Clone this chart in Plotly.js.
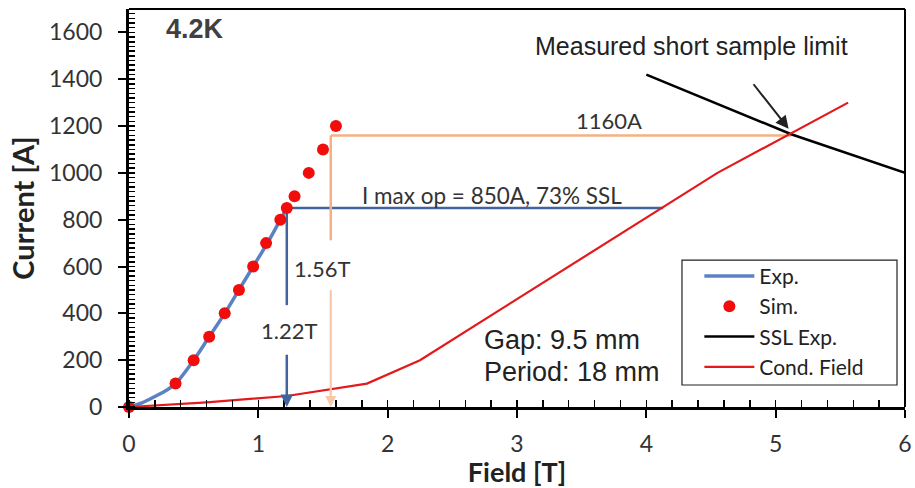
<!DOCTYPE html>
<html>
<head>
<meta charset="utf-8">
<script src="https://cdn.plot.ly/plotly-3.0.1.min.js"></script>
<style>html,body{margin:0;padding:0;background:#fff;}#chart{width:915px;height:488px;}</style>
</head>
<body>
<div id="chart"></div>
<script>
// ---- data ----
const expField   = [0, 0.1, 0.2, 0.3, 0.36, 0.5, 0.62, 0.74, 0.85, 0.96, 1.07, 1.17, 1.22];
const expCurrent = [0, 18, 45, 75, 100, 200, 300, 400, 500, 600, 700, 800, 850];

const simField   = [0, 0.36, 0.5, 0.62, 0.74, 0.85, 0.96, 1.06, 1.17, 1.22, 1.28, 1.39, 1.5, 1.6];
const simCurrent = [0, 100, 200, 300, 400, 500, 600, 700, 800, 850, 900, 1000, 1100, 1200];

const sslField   = [4.0, 5.12, 6.0];
const sslCurrent = [1420, 1165, 1000];

const condField   = [0, 0.6, 1.22, 1.84, 2.25, 4.55, 5.56];
const condCurrent = [0, 20, 47, 100, 200, 1000, 1300];

const opField = 1.22, opCurrent = 850, opLineEnd = 4.13;
const sslOpField = 1.56, sslOpCurrent = 1160, sslCross = 5.12;

const xTicks = [0, 1, 2, 3, 4, 5, 6];
const yTicks = [0, 200, 400, 600, 800, 1000, 1200, 1400, 1600];

const CAL = 'Lato, "Open Sans", sans-serif';
const ARI = '"Liberation Sans", Arial, sans-serif';
const BLUE2 = '#41649E', ORANGE = '#F4B183', ORANGE_L = '#F7C9A8', RED = '#E3191C';

const traces = [
  {x: expField, y: expCurrent, name: 'Exp.', mode: 'lines', line: {color: '#5B82C2', width: 3.5, shape: 'spline'}, cliponaxis: false},
  {x: simField, y: simCurrent, name: 'Sim.', mode: 'markers', marker: {color: '#F20D0D', size: 12}, cliponaxis: false},
  {x: sslField, y: sslCurrent, name: 'SSL Exp.', mode: 'lines', line: {color: '#000', width: 2.5}},
  {x: condField, y: condCurrent, name: 'Cond. Field', mode: 'lines', line: {color: RED, width: 2.2}, cliponaxis: false}
];

// gap positions (in current units) where the labels break the vertical arrows
const blueGapTop = 435, blueGapBottom = 230;
const orangeGapTop = 712, orangeGapBottom = 505;

const layout = {
  width: 915, height: 488,
  margin: {l: 129, r: 10, t: 9, b: 81},
  paper_bgcolor: '#fff', plot_bgcolor: '#fff',
  font: {family: CAL, color: '#333'},
  showlegend: true,
  legend: {
    x: 0.735, y: 0.38, xanchor: 'left', yanchor: 'top',
    borderwidth: 0, bgcolor: 'rgba(0,0,0,0)',
    font: {family: CAL, size: 21, color: '#222'},
    itemwidth: 50, tracegroupgap: 0
  },
  xaxis: {
    range: [0, 6], tickvals: xTicks, ticktext: xTicks.map(String),
    showgrid: false, zeroline: false,
    showline: true, linecolor: '#000', linewidth: 3,
    ticks: 'outside', ticklen: 8, tickwidth: 2, tickcolor: '#000',
    ticklabelstandoff: 6,
    minor: {dtick: 0.2, ticks: 'inside', ticklen: 7, tickwidth: 1.5, tickcolor: '#000', showgrid: false},
    tickfont: {family: CAL, size: 23, color: '#333'},
    title: {text: '<b>Field [T]</b>', font: {family: CAL, size: 27, color: '#222'}, standoff: 5}
  },
  yaxis: {
    range: [0, 1700], tickvals: yTicks, ticktext: yTicks.map(String),
    showgrid: false, zeroline: false,
    showline: true, linecolor: '#000', linewidth: 3,
    ticks: 'outside', ticklen: 8, tickwidth: 2, tickcolor: '#000',
    ticklabelstandoff: 11,
    minor: {dtick: 20, ticks: 'inside', ticklen: 6, tickwidth: 1.5, tickcolor: '#000', showgrid: false},
    tickfont: {family: CAL, size: 23, color: '#333'},
    title: {text: '<b>Current [A]</b>', font: {family: CAL, size: 29, color: '#222'}, standoff: 6}
  },
  shapes: [
    {type: 'line', xref: 'paper', yref: 'paper', x0: 0, x1: 1, y0: 1, y1: 1, line: {color: '#000', width: 2}},
    {type: 'line', xref: 'paper', yref: 'paper', x0: 1, x1: 1, y0: 0, y1: 1, line: {color: '#000', width: 2}},
    // legend frame
    {type: 'rect', xref: 'paper', yref: 'paper', x0: 0.7126, x1: 0.9897, y0: 0.0553, y1: 0.369,
     fillcolor: '#fff', line: {color: '#222', width: 1.2}, layer: 'above'},
    // operating-point guides
    {type: 'line', x0: opField, x1: opLineEnd, y0: opCurrent, y1: opCurrent, line: {color: BLUE2, width: 2.5}, layer: 'below'},
    {type: 'line', x0: opField, x1: opField, y0: opCurrent, y1: blueGapTop, line: {color: BLUE2, width: 2.5}, layer: 'below'},
    {type: 'line', x0: sslOpField, x1: sslCross, y0: sslOpCurrent, y1: sslOpCurrent, line: {color: ORANGE, width: 2.5}, layer: 'below'},
    {type: 'line', x0: sslOpField, x1: sslOpField, y0: sslOpCurrent, y1: orangeGapTop, line: {color: ORANGE, width: 2.5}, layer: 'below'}
  ],
  annotations: [
    // arrowheads to the field axis
    {x: opField, y: 0, ax: opField, ay: blueGapBottom, xref: 'x', yref: 'y', axref: 'x', ayref: 'y',
     text: '', showarrow: true, arrowhead: 2, arrowsize: 1, arrowwidth: 2.5, arrowcolor: BLUE2},
    {x: sslOpField, y: 0, ax: sslOpField, ay: orangeGapBottom, xref: 'x', yref: 'y', axref: 'x', ayref: 'y',
     text: '', showarrow: true, arrowhead: 2, arrowsize: 1, arrowwidth: 2.2, arrowcolor: ORANGE_L},
    {x: 1.24, y: 328, xref: 'x', yref: 'y', text: '1.22T', showarrow: false,
     font: {family: CAL, size: 22, color: '#333'}},
    {x: 1.49, y: 593, xref: 'x', yref: 'y', text: '1.56T', showarrow: false,
     font: {family: CAL, size: 22, color: '#333'}},
    {x: 3.71, y: 1224, xref: 'x', yref: 'y', text: '1160A', showarrow: false,
     font: {family: CAL, size: 22, color: '#333'}},
    {x: 2.81, y: 905, xref: 'x', yref: 'y', text: 'I max op = 850A, 73% SSL', showarrow: false,
     font: {family: CAL, size: 22.5, color: '#333'}},
    {x: 0.27, y: 1615, xref: 'x', yref: 'y', xanchor: 'left', text: '<b>4.2K</b>', showarrow: false,
     font: {family: ARI, size: 27, color: '#404040'}},
    {x: 2.73, y: 286, xref: 'x', yref: 'y', xanchor: 'left', text: 'Gap: 9.5 mm', showarrow: false,
     font: {family: ARI, size: 27, color: '#222'}},
    {x: 2.73, y: 150, xref: 'x', yref: 'y', xanchor: 'left', text: 'Period: 18 mm', showarrow: false,
     font: {family: ARI, size: 27, color: '#222'}},
    {x: 4.35, y: 1544, xref: 'x', yref: 'y', text: 'Measured short sample limit', showarrow: false,
     font: {family: ARI, size: 25, color: '#222'}},
    {x: 5.10, y: 1188, ax: 4.82, ay: 1385, xref: 'x', yref: 'y', axref: 'x', ayref: 'y',
     text: '', showarrow: true, arrowhead: 2, arrowsize: 1.3, arrowwidth: 2, arrowcolor: '#222'}
  ]
};

Plotly.newPlot('chart', traces, layout, {displayModeBar: false, staticPlot: true});
</script>
</body>
</html>
